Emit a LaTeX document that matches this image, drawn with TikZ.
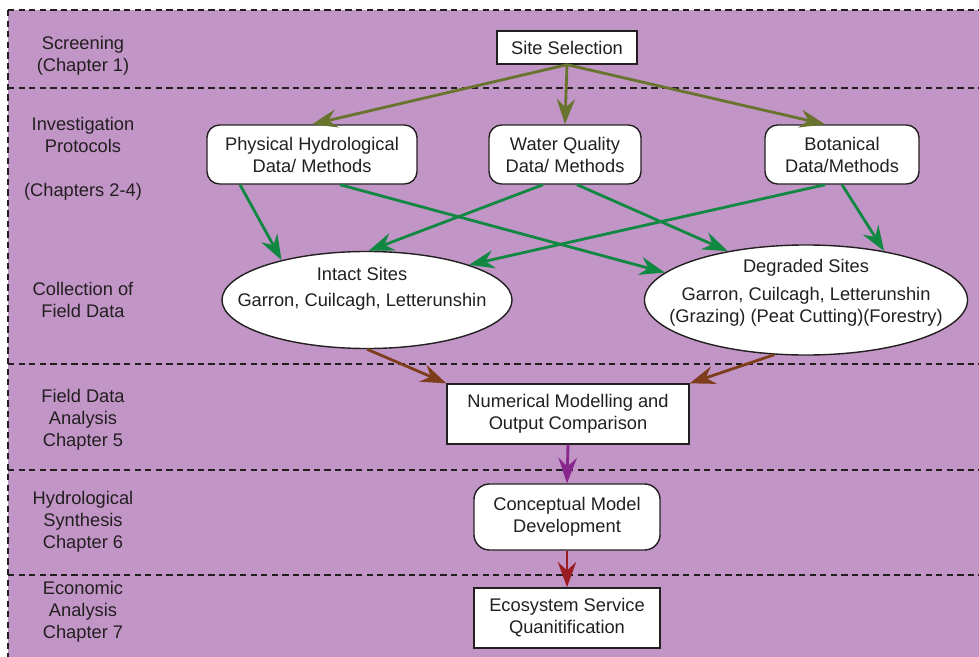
\documentclass[tikz,border=0pt]{standalone}
\usepackage{fontspec}
\setmainfont{Liberation Sans}
\usetikzlibrary{positioning, arrows.meta, calc, shapes.geometric}

\definecolor{bgpurple}{RGB}{194,149,199}
\definecolor{inkgray}{RGB}{35,31,32}
\definecolor{siteolive}{RGB}{104,116,46}
\definecolor{leafgreen}{RGB}{17,136,66}
\definecolor{rustbrown}{RGB}{126,62,28}
\definecolor{plumarrow}{RGB}{137,38,142}
\definecolor{winered}{RGB}{155,28,34}

\begin{document}
\begin{tikzpicture}[
    x=0.025cm, y=-0.025cm,
    >={Stealth[length=18pt, width=13pt, inset=6pt]},
    font=\fontsize{13}{15.6}\selectfont,
    every node/.style={text=inkgray},
    box/.style={draw=inkgray, line width=1pt, fill=white, rectangle, align=center, inner sep=0pt},
    rbox/.style={box, rounded corners=9pt},
    site/.style={draw=inkgray, line width=1pt, fill=white, ellipse, inner sep=0pt},
    stage/.style={align=center},
    sep/.style={draw=inkgray, line width=1pt, dash pattern=on 4.5pt off 3pt},
    flow/.style={->, line width=2pt},
]

% Page and background
\useasboundingbox (0,0) rectangle (979,657);
\fill[bgpurple] (8,10) rectangle (979,657);

% Stage separators
\draw[sep] (8,10) -- (979,10);
\draw[sep] (8,10) -- (8,657);
\draw[sep] (8,88) -- (979,88);
\draw[sep] (8,364) -- (979,364);
\draw[sep] (8,470) -- (979,470);
\draw[sep] (8,575) -- (979,575);

% Stage labels
\node[stage] (screen) at (83,56) {Screening\\(Chapter 1)};
\node[stage] (invest) at (83,159) {Investigation\\Protocols\\[15.6pt](Chapters 2-4)};
\node[stage] (collect) at (83,300) {Collection of\\Field Data};
\node[stage] (fieldan) at (83,419.5) {Field Data\\Analysis\\Chapter 5};
\node[stage] (hydsyn) at (83,521.5) {Hydrological\\Synthesis\\Chapter 6};
\node[stage] (econ) at (83,611.5) {Economic\\Analysis\\Chapter 7};

% Screening
\node[box, minimum width=3.5cm, minimum height=0.825cm] (sitesel) at (567,47.5) {Site Selection};

% Protocols
\node[rbox, minimum width=5.25cm, minimum height=1.475cm] (phys) at (312,154.5) {Physical Hydrological\\Data/ Methods};
\node[rbox, minimum width=3.8cm, minimum height=1.475cm] (water) at (565,154.5) {Water Quality\\Data/ Methods};
\node[rbox, minimum width=3.85cm, minimum height=1.475cm] (bot) at (842,154.5) {Botanical\\Data/Methods};

% Field sites
\node[site, minimum width=7.25cm, minimum height=2.425cm] (intact) at (367,300) {};
\node[align=center] (intacttxt) at (362,289) {Intact Sites\\[3pt]Garron, Cuilcagh, Letterunshin};
\node[site, minimum width=8.075cm, minimum height=2.75cm] (degr) at (806,300) {};
\node[align=center] (degrtxt) at (806,293) {Degraded Sites\\[4pt]Garron, Cuilcagh, Letterunshin\\(Grazing) (Peat Cutting)(Forestry)};

% Analysis, synthesis, economics
\node[box, minimum width=6.05cm, minimum height=1.5cm] (num) at (568,414) {Numerical Modelling and\\Output Comparison};
\node[rbox, rounded corners=11pt, minimum width=4.65cm, minimum height=1.65cm] (concept) at (567,517) {Conceptual Model\\Development};
\node[box, minimum width=4.65cm, minimum height=1.5cm] (eco) at (567,618) {Ecosystem Service\\Quanitification};

% Arrows
\draw[flow, siteolive] (sitesel.south) -- (phys.north);
\draw[flow, siteolive] (sitesel.south) -- (water.north);
\draw[flow, siteolive] (sitesel.south) -- ([xshift=-0.425cm]bot.north);

\draw[flow, leafgreen] ([xshift=-1.8cm]phys.south) -- (intact.155);
\draw[flow, leafgreen] ([xshift=0.7cm]phys.south) -- (degr.169);
\draw[flow, leafgreen] ([xshift=-0.55cm]water.south) -- (intact.88);
\draw[flow, leafgreen] ([xshift=0.3cm]water.south) -- (degr.148);
\draw[flow, leafgreen] ([xshift=-0.425cm]bot.south) -- (intact.19);
\draw[flow, leafgreen] (bot.south) -- (degr.32);

\draw[flow, rustbrown] (intact.south) -- (num.north west);
\draw[flow, rustbrown] (degr.240) -- (num.north east);
\draw[flow, plumarrow] (num.south) -- (concept.north);
\draw[flow, winered] (concept.south) -- (eco.north);

\end{tikzpicture}
\end{document}
